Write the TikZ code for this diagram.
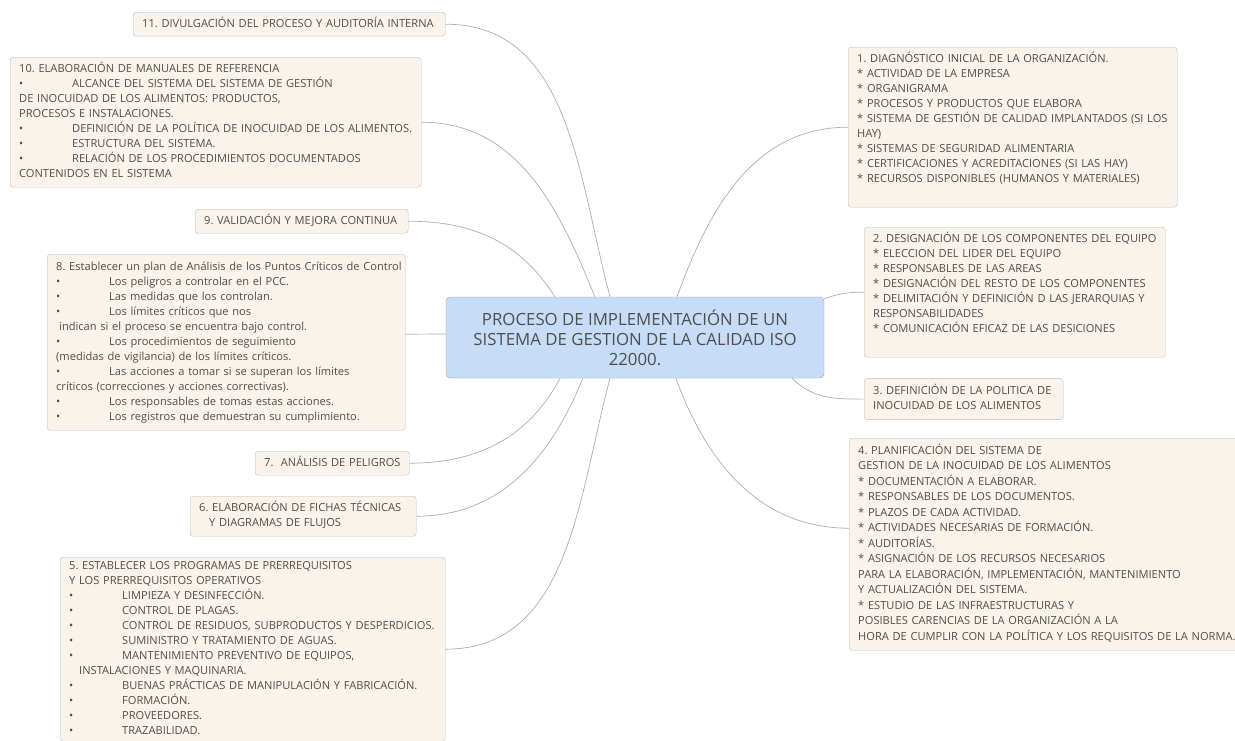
\documentclass[tikz,border=0pt]{standalone}
\usepackage{fontspec}
\setmainfont{Open Sans}
\usepackage{tikz}
\usetikzlibrary{positioning,calc}
\definecolor{tpfill}{RGB}{250,243,235}
\definecolor{tpline}{RGB}{196,188,180}
\definecolor{hubfill}{RGB}{198,220,247}
\definecolor{hubline}{RGB}{138,160,192}
\definecolor{lngray}{RGB}{172,172,172}
\definecolor{txt}{RGB}{78,78,78}
\tikzset{tp/.style={draw=tpline,fill=tpfill,rounded corners=3pt,anchor=north west,
    align=left,inner xsep=9pt,inner ysep=0pt,text=txt,
    font=\fontsize{11.1}{15}\selectfont\frenchspacing}}
\tikzset{hub/.style={draw=hubline,fill=hubfill,rounded corners=4pt,align=center,
    text=txt,font=\fontsize{16.8}{20}\selectfont,
    minimum width=378pt,minimum height=81pt}}
\tikzset{ln/.style={draw=lngray,line width=0.7pt}}
\newcommand{\bul}{\makebox[53pt][l]{•}}
\newcommand{\lns}[1]{\begin{tabular}{@{}l@{}}#1\end{tabular}}
\pgfdeclarelayer{edgelayer}
\pgfsetlayers{edgelayer,main}

\begin{document}
\begin{tikzpicture}[x=1pt,y=1pt]
        \useasboundingbox (0,0) rectangle (1235,-740);
        \clip (0,0) rectangle (1235,-740);
        \node[hub] (c) at (635,-337.5) {PROCESO DE IMPLEMENTACIÓN DE UN\\SISTEMA DE GESTION DE LA CALIDAD ISO\\22000.};
        % left side
        \node[tp, text width=294pt, minimum height=24pt] (11) at (133,-12) {\lns{11. DIVULGACIÓN DEL PROCESO Y AUDITORÍA INTERNA}};
        \node[tp, text width=393pt, minimum height=130pt] (10) at (10,-57) {\lns{10. ELABORACIÓN DE MANUALES DE REFERENCIA\\
            \bul ALCANCE DEL SISTEMA DEL SISTEMA DE GESTIÓN\\
            DE INOCUIDAD DE LOS ALIMENTOS: PRODUCTOS,\\
            PROCESOS E INSTALACIONES.\\
            \bul DEFINICIÓN DE LA POLÍTICA DE INOCUIDAD DE LOS ALIMENTOS.\\
            \bul ESTRUCTURA DEL SISTEMA.\\
            \bul RELACIÓN DE LOS PROCEDIMIENTOS DOCUMENTADOS\\
            CONTENIDOS EN EL SISTEMA}};
        \node[tp, text width=195pt, minimum height=24pt] (9) at (195,-209) {\lns{9. VALIDACIÓN Y MEJORA CONTINUA}};
        \node[tp, text width=340pt, minimum height=176pt] (8) at (47,-254) {\lns{8. Establecer un plan de Análisis de los Puntos Críticos de Control\\
            \bul Los peligros a controlar en el PCC.\\
            \bul Las medidas que los controlan.\\
            \bul Los límites críticos que nos\\
            \hspace*{3pt}indican si el proceso se encuentra bajo control.\\
            \bul Los procedimientos de seguimiento\\
            (medidas de vigilancia) de los límites críticos.\\
            \bul Las acciones a tomar si se superan los límites\\
            críticos (correcciones y acciones correctivas).\\
            \bul Los responsables de tomas estas acciones.\\
            \bul Los registros que demuestran su cumplimiento.}};
        \node[tp, text width=136pt, minimum height=24pt] (7) at (255,-451) {\lns{7.\ \ ANÁLISIS DE PELIGROS}};
        \node[tp, text width=208pt, minimum height=40pt] (6) at (190,-496) {\lns{6. ELABORACIÓN DE FICHAS TÉCNICAS\\\hspace*{10pt}Y DIAGRAMAS DE FLUJOS}};
        \node[tp, text width=367pt, minimum height=184pt] (5) at (60,-557) {\lns{5. ESTABLECER LOS PROGRAMAS DE PRERREQUISITOS\\
            Y LOS PRERREQUISITOS OPERATIVOS\\
            \bul LIMPIEZA Y DESINFECCIÓN.\\
            \bul CONTROL DE PLAGAS.\\
            \bul CONTROL DE RESIDUOS, SUBPRODUCTOS Y DESPERDICIOS.\\
            \bul SUMINISTRO Y TRATAMIENTO DE AGUAS.\\
            \bul MANTENIMIENTO PREVENTIVO DE EQUIPOS,\\
            \hspace*{10pt}INSTALACIONES Y MAQUINARIA.\\
            \bul BUENAS PRÁCTICAS DE MANIPULACIÓN Y FABRICACIÓN.\\
            \bul FORMACIÓN.\\
            \bul PROVEEDORES.\\
            \bul TRAZABILIDAD.}};
        % right side
        \node[tp, text width=311pt, minimum height=160pt] (1) at (848,-47) {\lns{1. DIAGNÓSTICO INICIAL DE LA ORGANIZACIÓN.\\
            {*} ACTIVIDAD DE LA EMPRESA\\
            {*} ORGANIGRAMA\\
            {*} PROCESOS Y PRODUCTOS QUE ELABORA\\
            {*} SISTEMA DE GESTIÓN DE CALIDAD IMPLANTADOS (SI LOS\\
            HAY)\\
            {*} SISTEMAS DE SEGURIDAD ALIMENTARIA\\
            {*} CERTIFICACIONES Y ACREDITACIONES (SI LAS HAY)\\
            {*} RECURSOS DISPONIBLES (HUMANOS Y MATERIALES)\\
            \mbox{}}};
        \node[tp, text width=283pt, minimum height=130pt] (2) at (864,-227) {\lns{2. DESIGNACIÓN DE LOS COMPONENTES DEL EQUIPO\\
            {*} ELECCION DEL LIDER DEL EQUIPO\\
            {*} RESPONSABLES DE LAS AREAS\\
            {*} DESIGNACIÓN DEL RESTO DE LOS COMPONENTES\\
            {*} DELIMITACIÓN Y DEFINICIÓN D LAS JERARQUIAS Y\\
            RESPONSABILIDADES\\
            {*} COMUNICACIÓN EFICAZ DE LAS DESICIONES\\
            \mbox{}}};
        \node[tp, text width=181pt, minimum height=41pt] (3) [below=21pt of 2.south west, anchor=north west] {\lns{3. DEFINICIÓN DE LA POLITICA DE\\INOCUIDAD DE LOS ALIMENTOS}};
        \node[tp, text width=377pt, minimum height=212pt, font=\fontsize{11.1}{15.5}\selectfont\frenchspacing] (4) at (849,-438) {\lns{4. PLANIFICACIÓN DEL SISTEMA DE\\
            GESTION DE LA INOCUIDAD DE LOS ALIMENTOS\\
            {*} DOCUMENTACIÓN A ELABORAR.\\
            {*} RESPONSABLES DE LOS DOCUMENTOS.\\
            {*} PLAZOS DE CADA ACTIVIDAD.\\
            {*} ACTIVIDADES NECESARIAS DE FORMACIÓN.\\
            {*} AUDITORÍAS.\\
            {*} ASIGNACIÓN DE LOS RECURSOS NECESARIOS\\
            PARA LA ELABORACIÓN, IMPLEMENTACIÓN, MANTENIMIENTO\\
            Y ACTUALIZACIÓN DEL SISTEMA.\\
            {*} ESTUDIO DE LAS INFRAESTRUCTURAS Y\\
            POSIBLES CARENCIAS DE LA ORGANIZACIÓN A LA\\
            HORA DE CUMPLIR CON LA POLÍTICA Y LOS REQUISITOS DE LA NORMA.}};
        % points on the central box
        \coordinate (h11) at ($(c.north west)!0.434!(c.north east)$);
        \coordinate (h10) at ($(c.north west)!0.394!(c.north east)$);
        \coordinate (h9) at ($(c.north west)!0.288!(c.north east)$);
        \coordinate (h1) at ($(c.north west)!0.611!(c.north east)$);
        \coordinate (h7) at ($(c.south west)!0.302!(c.south east)$);
        \coordinate (h6) at ($(c.south west)!0.362!(c.south east)$);
        \coordinate (h5) at ($(c.south west)!0.434!(c.south east)$);
        \coordinate (h4) at ($(c.south west)!0.608!(c.south east)$);
        \coordinate (h3) at ($(c.south west)!0.915!(c.south east)$);
        \begin{pgfonlayer}{edgelayer}
        \draw (11.east) edge[ln, out=0, in=105] (h11);
        \draw (10.east) edge[ln, out=0, in=112] (h10);
        \draw (9.east) edge[ln, out=0, in=122] (h9);
        \draw ([yshift=8pt]8.east) edge[ln] ([yshift=3.5pt]c.west);
        \draw (7.east) edge[ln, out=0, in=-118] (h7);
        \draw (6.east) edge[ln, out=0, in=-112] (h6);
        \draw (5.east) edge[ln, out=0, in=-105] (h5);
        \draw (h1) edge[ln, out=70, in=180] (1.west);
        \draw ([yshift=-2pt]c.north east) edge[ln, out=20, in=180] (2.west);
        \draw (h3) edge[ln, out=-45, in=180] (3.west);
        \draw (h4) edge[ln, out=-70, in=180] ([yshift=16pt]4.west);
        \end{pgfonlayer}
\end{tikzpicture}
\end{document}
